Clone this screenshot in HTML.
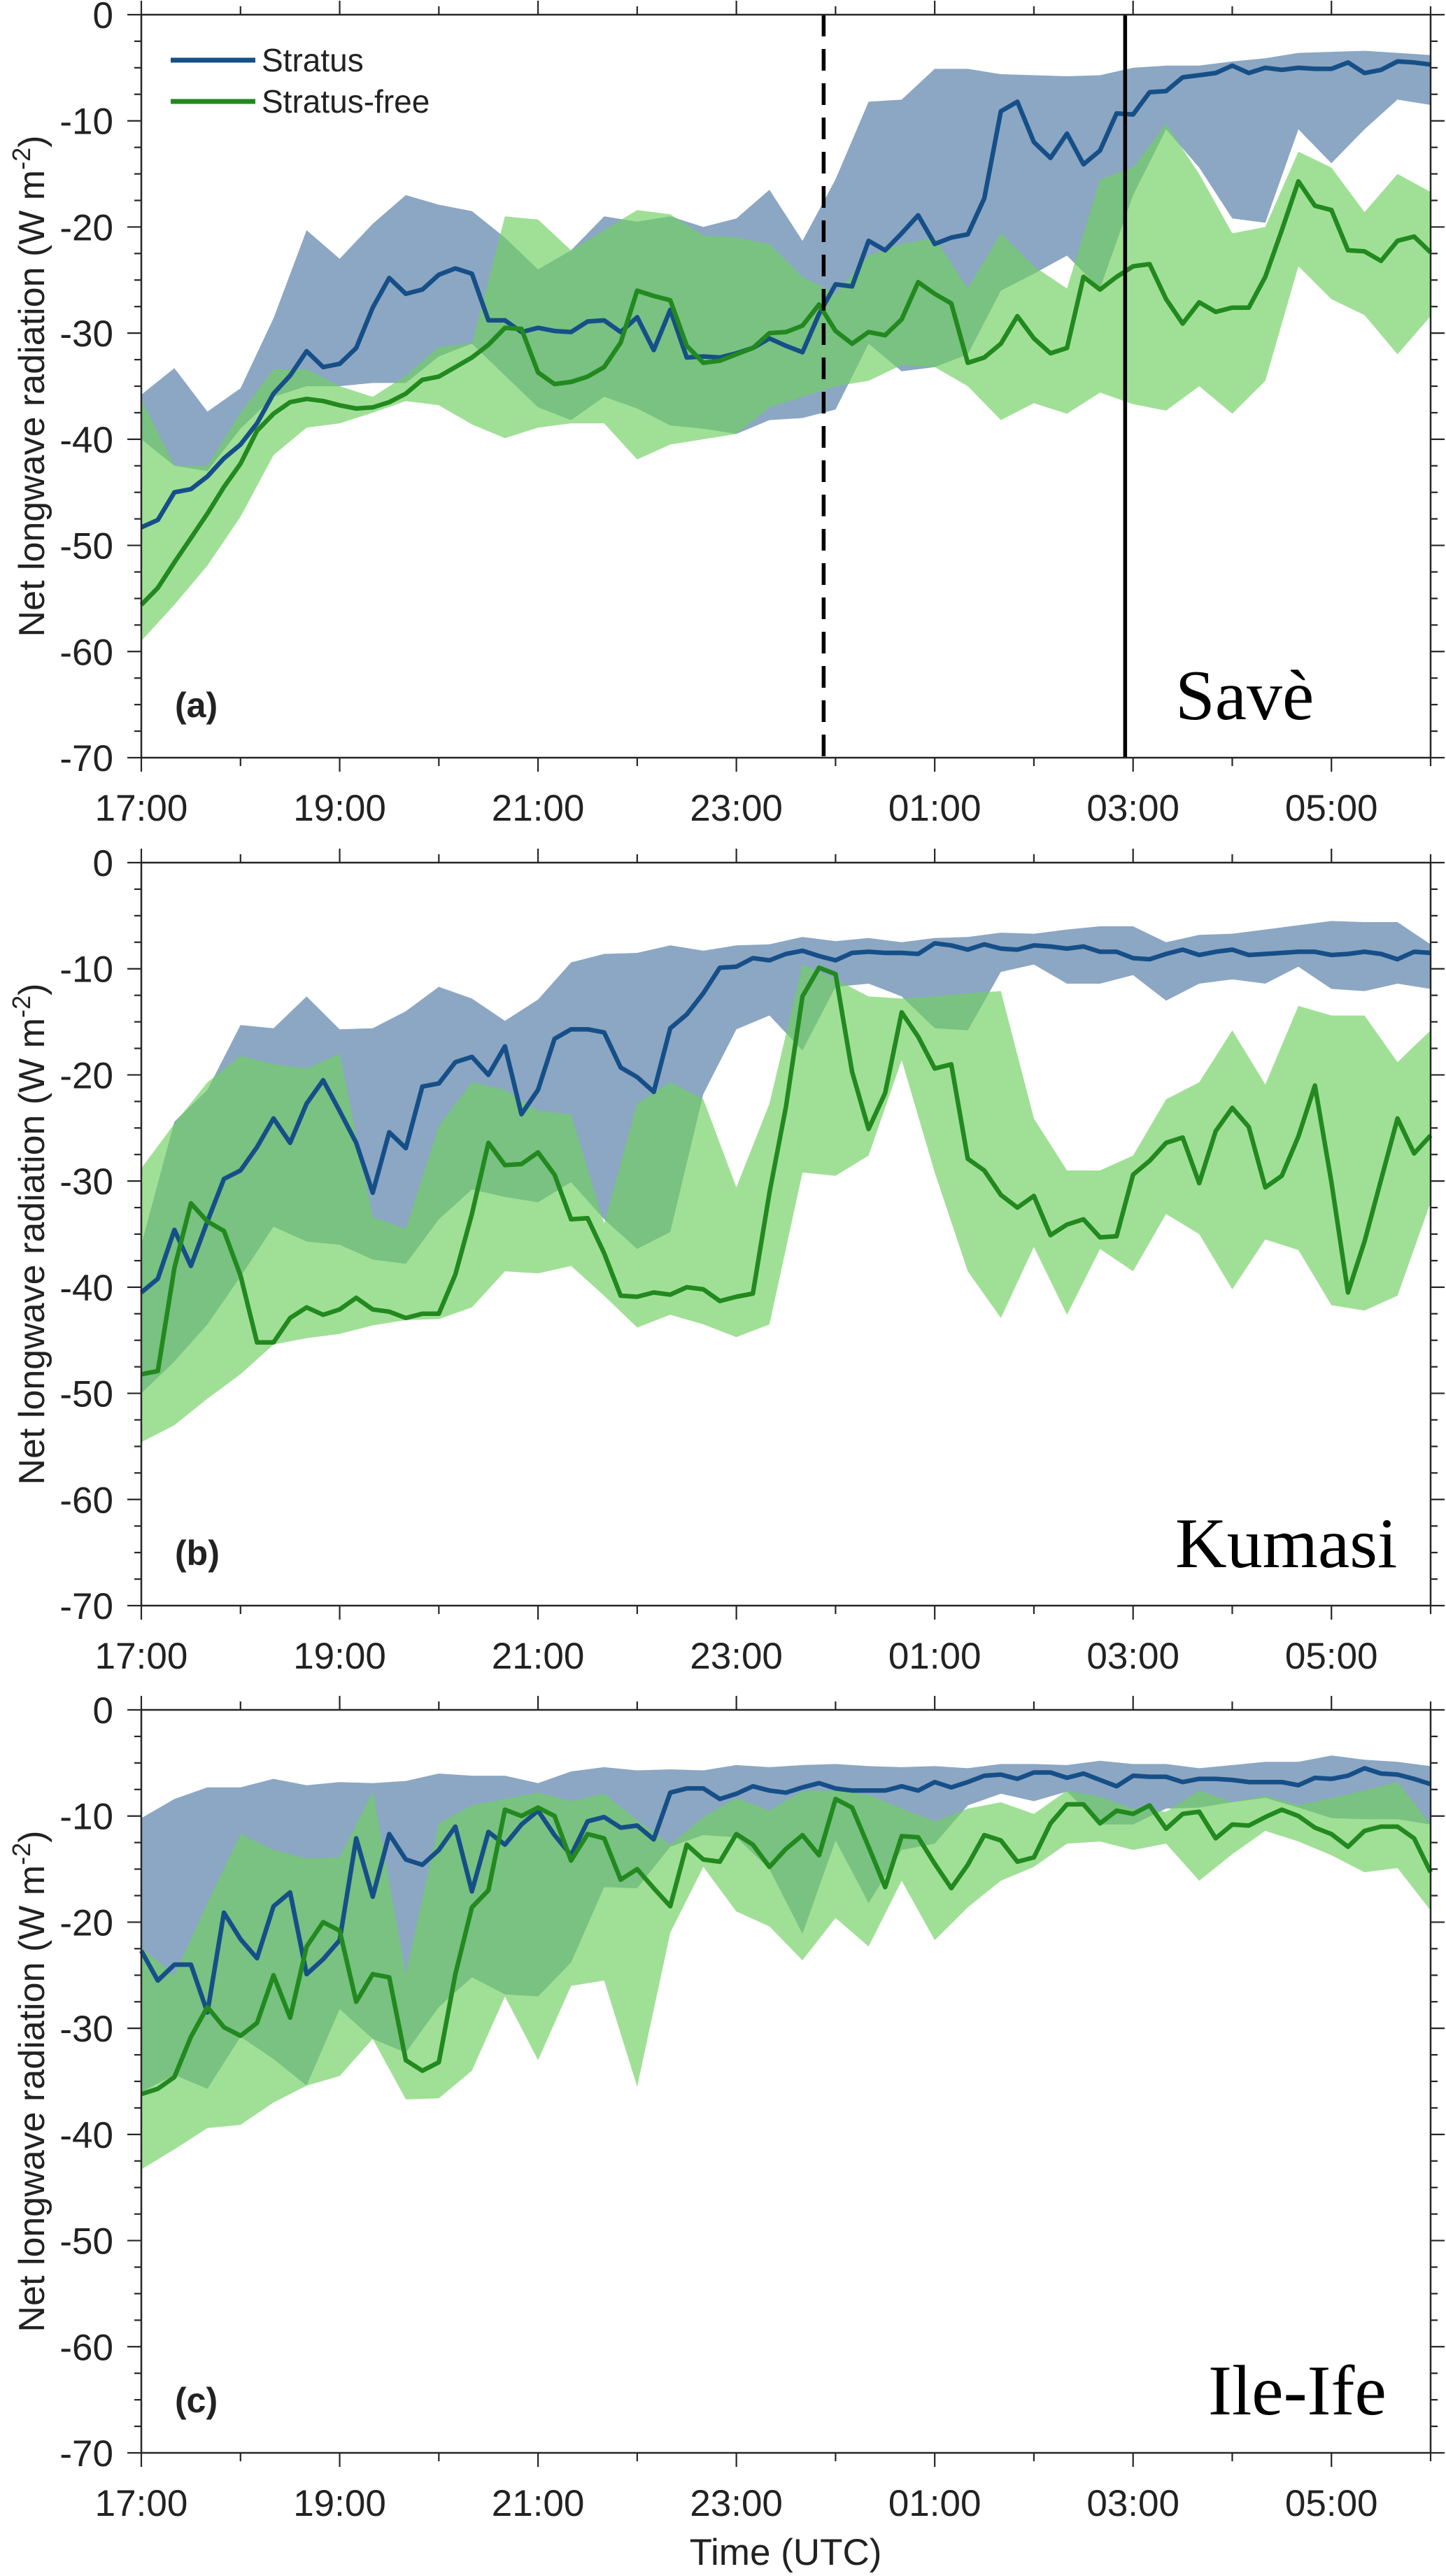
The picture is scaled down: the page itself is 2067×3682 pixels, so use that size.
<!DOCTYPE html>
<html><head><meta charset="utf-8"><title>Net longwave radiation</title>
<style>
html,body{margin:0;padding:0;background:#fff;}
svg{display:block;}
text{font-family:"Liberation Sans",sans-serif;fill:#222;}
</style></head>
<body>
<svg id="chart" xmlns="http://www.w3.org/2000/svg" width="2067" height="3682" viewBox="0 0 2067 3682"></svg>
<script>
// ---- data (hours since 17:00; lines every 10 min, bands every 20 min) ----
const xTickLabels = ["17:00","19:00","21:00","23:00","01:00","03:00","05:00"];
const yTickValues = [0,-10,-20,-30,-40,-50,-60,-70];
const stationNames = ["Savè","Kumasi","Ile-Ife"];
const panelLetters = ["(a)","(b)","(c)"];
const seriesNames = ["Stratus","Stratus-free"];
const onsetTimes = [6.88, 9.92]; // dashed, solid (hours after 17:00) in panel a

const aStratus = [-48.3,-47.6,-45,-44.7,-43.5,-41.8,-40.5,-38.5,-35.7,-34,-31.7,-33.2,-32.9,-31.4,-27.6,-24.8,-26.3,-25.9,-24.5,-23.9,-24.4,-28.8,-28.8,-29.9,-29.5,-29.8,-29.9,-28.9,-28.8,-29.9,-28.5,-31.6,-27.8,-32.3,-32.2,
 -32.3,-31.9,-31.4,-30.5,-31.2,-31.8,-28.2,-25.4,-25.6,-21.3,-22.2,-20.6,-18.9,-21.6,-21,-20.7,-17.3,-9.1,-8.2,-12,-13.5,-11.2,-14.1,-12.8,-9.3,-9.4,-7.3,-7.2,-5.9,-5.7,-5.5,-4.8,-5.5,-5,-5.2,-5,-5.1,-5.1,-4.5,-5.5,-5.2,-4.4,-4.5,-4.7];
const aFree = [-55.6,-54,-51.6,-49.3,-47,-44.5,-42.3,-39.2,-37.6,-36.5,-36.2,-36.4,-36.8,-37.1,-37,-36.5,-35.7,-34.4,-34.1,-33.2,-32.3,-31.1,-29.5,-29.6,-33.7,-34.8,-34.6,-34.1,-33.2,-30.9,-26,-26.5,-26.9,-31.2,-32.8,
 -32.6,-32,-31.4,-30,-29.9,-29.3,-27.3,-29.8,-31,-29.9,-30.2,-28.7,-25.2,-26.3,-27.2,-32.8,-32.3,-31,-28.4,-30.5,-31.9,-31.4,-24.7,-25.9,-24.7,-23.7,-23.5,-26.8,-29.1,-27.1,-28,-27.6,-27.6,-24.7,-20.3,-15.7,-18,-18.4,-22.2,-22.3,-23.2,-21.3,-20.9,-22.4];
const aStratusHi = [-35.8,-33.3,-37.4,-35.2,-28.6,-20.3,-23,-19.7,-17,-17.9,-18.5,-21,-24,-22.2,-19,-19.5,-19,-20,-19.2,-16.5,-21.3,-15.5,-8.2,-8,-5.1,-5.1,-5.6,-5.7,-5.8,-5.7,-5,-4.8,-4.8,-4.4,-4.1,-3.6,-3.5,-3.4,-3.6,-3.8];
const aStratusLo = [-40,-42.5,-43,-39,-36,-35,-35,-34.7,-34.7,-32.2,-31,-34,-37,-38.2,-36,-37.1,-38.7,-39,-39.5,-38.2,-38,-37.2,-31,-33.6,-33.2,-32,-26,-24.4,-22.7,-25.8,-17,-10.8,-14.4,-19.2,-19.6,-10.8,-14,-10.8,-8,-8.5];
const aFreeHi = [-36.2,-42.5,-42.5,-37.5,-33.4,-33.4,-35,-36,-34,-31.3,-31,-19,-19.3,-22.2,-20.3,-18.4,-18.8,-20.8,-21,-21.6,-24.7,-26.3,-22.7,-21.6,-21,-25.8,-20.6,-23.7,-25.8,-15.5,-14.4,-10.3,-15,-20.6,-20,-12.9,-14.4,-18.6,-15,-16.7];
const aFreeLo = [-59,-55.6,-51.9,-47.3,-41.5,-38.9,-38.5,-37.5,-36.4,-36.8,-38.6,-39.9,-38.9,-38.5,-38.5,-41.9,-40.5,-40,-39.5,-37,-36,-35,-34.5,-33,-33.2,-35,-38.2,-36.6,-37.6,-35.6,-36.7,-37.3,-35,-37.6,-34.5,-23.7,-26.8,-28.3,-32,-28.4];

const bStratus = [-40.5,-39.2,-34.6,-38,-33.8,-29.8,-29,-26.8,-24.1,-26.4,-22.7,-20.5,-23.4,-26.4,-31.1,-25.4,-26.9,-21.1,-20.8,-18.8,-18.3,-20,-17.3,-23.7,-21.4,-16.6,-15.7,-15.7,-16,-19.3,-20.2,-21.6,-15.6,-14.3,-12.3,-9.9,-9.8,-9,-9.2,-8.6,-8.3,
 -8.8,-9.2,-8.5,-8.4,-8.5,-8.5,-8.6,-7.6,-7.8,-8.2,-7.7,-8.1,-8.2,-7.8,-7.9,-8.1,-7.9,-8.4,-8.4,-9,-9.1,-8.6,-8.2,-8.7,-8.4,-8.2,-8.7,-8.6,-8.5,-8.4,-8.4,-8.7,-8.6,-8.4,-8.6,-9.1,-8.4,-8.5];
const bFree = [-48.2,-47.9,-38.2,-32.1,-33.8,-34.7,-38.9,-45.2,-45.2,-42.9,-41.9,-42.6,-42.1,-41,-42.1,-42.3,-42.9,-42.5,-42.5,-38.8,-33.1,-26.4,-28.5,-28.4,-27.3,-29.4,-33.6,-33.5,-36.8,-40.8,-40.9,-40.5,-40.7,-40,-40.2,-41.3,-40.9,-40.6,-31.1,-23,-12.6,
 -9.9,-10.5,-19.7,-25.1,-21.7,-14.1,-16.4,-19.4,-19,-27.9,-29,-31.3,-32.5,-31.4,-35.1,-34.1,-33.6,-35.3,-35.2,-29.4,-28.1,-26.4,-25.9,-30.2,-25.3,-23.1,-24.9,-30.6,-29.5,-25.8,-21,-30.1,-40.5,-35.7,-29.9,-24.1,-27.4,-25.7];
const bStratusHi = [-36,-24.4,-21.4,-15.3,-15.6,-12.6,-15.7,-15.6,-14,-11.7,-12.8,-14.9,-12.9,-9.4,-8.6,-8.5,-7.8,-8.3,-7.8,-7.7,-7,-7.4,-7.1,-7.5,-7.1,-7,-6.6,-6.7,-6.3,-6,-6,-7.5,-6.8,-6.7,-6.3,-5.9,-5.5,-5.6,-5.6,-7.7];
const bStratusLo = [-50,-47,-43.5,-39,-34.3,-35.7,-36,-37.4,-37.8,-33.6,-30.8,-31.5,-32,-30.1,-33.6,-36.4,-34.8,-21.8,-15.7,-14.4,-17.7,-11.7,-11.4,-12.6,-15.6,-15.8,-10.3,-9.6,-11.4,-11.4,-10.6,-13,-11.4,-11,-11.4,-9.8,-11.9,-12.1,-11.4,-11.9];
const bFreeHi = [-28.8,-24.6,-20.7,-18.2,-19,-19.4,-18,-33.4,-34.5,-24.8,-20.7,-21.4,-23.4,-23.7,-34,-22.7,-20.7,-22.3,-30.6,-22.7,-9.6,-11,-12.6,-12.8,-12.6,-12.3,-12.1,-24.1,-29,-29,-27.6,-22.3,-20.7,-15.8,-20.9,-13.5,-14.4,-14.4,-18.8,-15.8];
const bFreeLo = [-54.6,-53,-50.5,-48.2,-45.4,-44.8,-44.4,-43.6,-43.1,-43,-41.9,-38.5,-38.7,-38,-40.8,-43.8,-42.6,-43.5,-44.7,-43.5,-29.2,-29.5,-27.6,-18.6,-29.2,-38.5,-42.9,-36.2,-42.6,-36.4,-38.5,-33.1,-35,-40.2,-35.5,-36.5,-41.7,-42.2,-40.8,-32];

const cStratus = [-22.7,-25.5,-24,-24,-28.5,-19.1,-21.6,-23.4,-18.5,-17.2,-24.9,-23.5,-21.7,-12.1,-17.6,-11.7,-14.1,-14.6,-13.2,-11,-17.1,-11.5,-12.7,-10.8,-9.5,-11.8,-13.7,-10.5,-10.1,-11.1,-10.9,-12.2,-7.8,-7.4,-7.4,-8.4,-7.9,-7.2,-7.6,-7.8,-7.3,
 -6.9,-7.4,-7.6,-7.6,-7.6,-7.2,-7.6,-6.8,-7.3,-6.8,-6.2,-6.1,-6.5,-5.9,-5.9,-6.4,-6,-6.6,-7.2,-6.2,-6.3,-6.3,-6.8,-6.5,-6.5,-6.6,-6.8,-6.8,-6.8,-7.1,-6.4,-6.5,-6.2,-5.5,-6,-6.1,-6.5,-7];
const cFree = [-36.2,-35.7,-34.6,-30.8,-28,-29.9,-30.7,-29.5,-25,-29,-22.3,-20,-20.8,-27.5,-24.9,-25.2,-33,-34,-33.2,-24.9,-18.6,-17,-9.4,-10,-9.2,-10,-14.2,-11.7,-12.1,-16,-15,-16.8,-18.5,-12.7,-14.1,-14.3,-11.7,-12.7,-14.8,-13.1,-11.8,
 -13.7,-8.4,-9.2,-12.9,-16.7,-11.9,-12,-14.5,-16.8,-14.6,-11.8,-12.3,-14.3,-13.9,-10.7,-8.9,-8.9,-10.7,-9.5,-9.8,-9,-11.2,-9.8,-9.6,-12.1,-10.8,-10.9,-10.1,-9.4,-10,-11.1,-11.7,-12.9,-11.4,-11,-11,-12.1,-15.3];
const cStratusHi = [-10.2,-8.4,-7.3,-7.3,-6.5,-7.1,-6.8,-6.9,-6.7,-6,-6.2,-6.2,-6.9,-5.8,-5.4,-5.7,-5.6,-5.7,-5.2,-5.4,-5.2,-5.1,-5.3,-5.4,-5.3,-5.5,-5.1,-5.1,-5.2,-4.8,-5.1,-5.1,-5.5,-5.2,-4.9,-4.9,-4.3,-4.7,-4.9,-5.3];
const cStratusLo = [-36,-34.4,-35.7,-30.8,-32.9,-35.4,-28.2,-31,-32.3,-28,-25.2,-26.8,-27,-23.8,-16.7,-16.8,-12.9,-11.8,-12,-15,-21.1,-12.3,-18.2,-13.2,-12.6,-9,-7.9,-8.6,-7.7,-10.8,-10.8,-9.3,-9.2,-8.7,-8.3,-9.2,-10.2,-10.3,-10.3,-10.8];
const cFreeHi = [-22.4,-25,-18.2,-11.7,-13.2,-14,-13.9,-7.7,-24.9,-10.7,-9,-8.4,-7.8,-8.6,-7.9,-10.4,-12.7,-10.1,-8.3,-9.5,-7.6,-7.6,-8,-9.3,-10.5,-9.3,-8.7,-9.8,-7.6,-8.2,-9.3,-9.6,-7.6,-8.7,-8.1,-9,-8.3,-7.6,-6.8,-10.8];
const cFreeLo = [-43.3,-41.4,-39.4,-39.1,-37,-35.4,-34.5,-31,-36.7,-36.6,-34,-27,-33,-26,-25.5,-35.5,-21,-14.8,-19,-20.4,-23.6,-19.6,-22.3,-16.1,-21.7,-18.6,-16.1,-14.8,-12.6,-12.4,-13.2,-12.6,-16.1,-13.6,-11.4,-12.4,-13.7,-15.3,-14.9,-18.9];

// ---- layout ----
const NS = "http://www.w3.org/2000/svg";
const svg = document.getElementById("chart");
const X0 = 202, X1 = 2045, HOURS = 13;
const panels = [
  {top:21, bottom:1083, lines:[aStratus,aFree], bands:[[aStratusHi,aStratusLo],[aFreeHi,aFreeLo]]},
  {top:1233, bottom:2295, lines:[bStratus,bFree], bands:[[bStratusHi,bStratusLo],[bFreeHi,bFreeLo]]},
  {top:2444, bottom:3506, lines:[cStratus,cFree], bands:[[cStratusHi,cStratusLo],[cFreeHi,cFreeLo]]}
];
const xScale = t => X0 + (X1 - X0) * t / HOURS;
const yScaleFor = p => v => p.top + (p.bottom - p.top) * (0 - v) / 70;

function mk(tag, attrs, parent) {
  const e = document.createElementNS(NS, tag);
  for (const k in attrs) e.setAttribute(k, attrs[k]);
  (parent || svg).appendChild(e);
  return e;
}

const lineColors = ["#164f88", "#22891f"];
const bandFills = ["#8ca7c3", "rgb(111,208,96)"];
const bandOpac = [1, 0.66];
const keys = ["stratus", "stratus-free"];
const letters = ["a", "b", "c"];

panels.forEach((p, pi) => {
  const y = yScaleFor(p);
  const g = mk("g", {});
  
  

  p.bands.forEach((bd, si) => {
    const hi = bd[0], lo = bd[1];
    let pts = [];
    for (let i = 0; i < hi.length; i++) pts.push(xScale(i / 3).toFixed(1) + "," + y(hi[i]).toFixed(1));
    for (let i = lo.length - 1; i >= 0; i--) pts.push(xScale(i / 3).toFixed(1) + "," + y(lo[i]).toFixed(1));
    const poly = mk("polygon", {points: pts.join(" "), fill: bandFills[si], "fill-opacity": bandOpac[si], stroke: "none"}, g);
    
    
  });

  p.lines.forEach((arr, si) => {
    const pts = arr.map((v, k) => xScale(k / 6).toFixed(1) + "," + y(v).toFixed(1)).join(" ");
    const pl = mk("polyline", {points: pts, fill: "none", stroke: lineColors[si], "stroke-width": 6.5, "stroke-linejoin": "round"}, g);
    
    
  });

  if (pi === 0) {
    onsetTimes.forEach((t, j) => {
      const vl = mk("line", {x1: xScale(t), x2: xScale(t), y1: p.top, y2: p.bottom, stroke: "#000", "stroke-width": 5.5, "stroke-dasharray": j === 0 ? "31,18" : "none"}, g);
      
      
    });
  }

  const box = mk("rect", {x: X0, y: p.top, width: X1 - X0, height: p.bottom - p.top, fill: "none", stroke: "#262626", "stroke-width": 2.5}, g);
  
  

  for (let v = 0; v >= -70; v -= 2.5) {
    const major = (v % 10 === 0);
    const L = major ? 20 : 10;
    const yy = y(v);
    const tl = mk("line", {x1: X0 - L, x2: X0, y1: yy, y2: yy, stroke: "#262626", "stroke-width": 2.2}, g);
    
    
    const tr = mk("line", {x1: X1, x2: X1 + L, y1: yy, y2: yy, stroke: "#262626", "stroke-width": 2.2}, g);
    
    
  }
  yTickValues.forEach(v => {
    const t = mk("text", {x: 162, y: y(v) + 19, "text-anchor": "end", "font-size": 53}, g);
    t.textContent = String(v);
    
    
  });

  for (let h = 0; h <= HOURS; h++) {
    const major = (h % 2 === 0);
    const L = major ? 20 : 12;
    const xx = xScale(h);
    const tb = mk("line", {x1: xx, x2: xx, y1: p.bottom, y2: p.bottom + L, stroke: "#262626", "stroke-width": 2.2}, g);
    
    
    const tt = mk("line", {x1: xx, x2: xx, y1: p.top - L, y2: p.top, stroke: "#262626", "stroke-width": 2.2}, g);
    
    
  }
  xTickLabels.forEach((lab, i) => {
    const t = mk("text", {x: xScale(i * 2), y: p.bottom + 90, "text-anchor": "middle", "font-size": 53}, g);
    t.textContent = lab;
    
    
  });

  const cy = (p.top + p.bottom) / 2;
  const yt = mk("text", {x: 0, y: 0, "text-anchor": "middle", "font-size": 52, transform: "translate(63," + cy + ") rotate(-90)"}, g);
  
  
  yt.appendChild(document.createTextNode("Net longwave radiation (W m"));
  const sup = mk("tspan", {"font-size": 36, dy: -20}, yt);
  sup.textContent = "-2";
  const close = mk("tspan", {"font-size": 52, dy: 20}, yt);
  close.textContent = ")";

  const pl = mk("text", {x: 250, y: p.bottom - 58, "font-size": 50, "font-weight": "bold"}, g);
  pl.textContent = panelLetters[pi];
  
  

  const stX = [1680, 1680, 1727][pi];
  const sn = mk("text", {x: stX, y: p.bottom - 55, "font-size": 102, style: "font-family:'Liberation Serif',serif;fill:#000"}, g);
  sn.textContent = stationNames[pi];
  
  
});

const lg = mk("g", {});


[86, 145].forEach((ly, i) => {
  const ll = mk("line", {x1: 244, x2: 365, y1: ly, y2: ly, stroke: lineColors[i], "stroke-width": 7}, lg);
  
  
  const lt = mk("text", {x: 374, y: ly + 16, "font-size": 46}, lg);
  lt.textContent = seriesNames[i];
  
  
});

const xt = mk("text", {x: 1123, y: 3666, "text-anchor": "middle", "font-size": 53});
xt.textContent = "Time (UTC)";


</script>
</body></html>
